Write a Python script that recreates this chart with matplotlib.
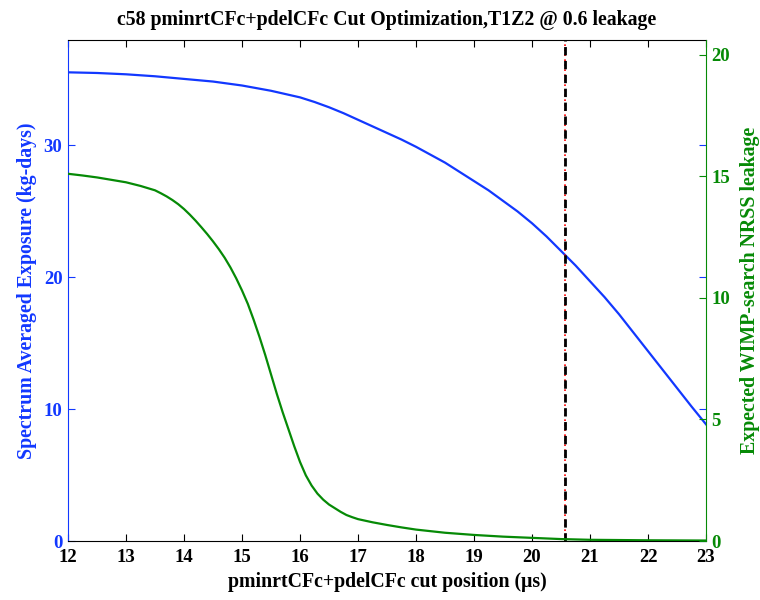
import matplotlib.pyplot as plt

plt.rcParams["font.family"] = ["Liberation Serif", "DejaVu Serif"]
plt.rcParams["font.weight"] = "bold"

BLUE = "#1238ff"
GREEN = "#068a06"

# exposure curve (left axis)
exp_x = [12.0, 12.5, 13.0, 13.5, 14.0, 14.5, 15.0, 15.5, 16.0, 16.25, 16.5, 16.75,
         17.0, 17.25, 17.5, 17.75, 18.0, 18.25, 18.5, 18.75, 19.0, 19.25, 19.5,
         19.75, 20.0, 20.25, 20.5, 20.75, 21.0, 21.25, 21.5, 21.75, 22.0, 22.25,
         22.5, 22.75, 23.0]
exposure = [35.55, 35.5, 35.4, 35.25, 35.05, 34.85, 34.55, 34.15, 33.65, 33.3, 32.9,
            32.45, 31.95, 31.45, 30.95, 30.45, 29.9, 29.3, 28.7, 28.0, 27.3, 26.6,
            25.8, 25.0, 24.1, 23.1, 22.0, 20.9, 19.7, 18.5, 17.2, 15.8, 14.4, 13.0,
            11.6, 10.2, 8.85]

# leakage curve (right axis)
leak_x = [12.0, 12.25, 12.5, 12.75, 13.0, 13.25, 13.5, 13.6, 13.7, 13.8, 13.9,
          14.0, 14.1, 14.2, 14.3, 14.4, 14.5, 14.6, 14.7, 14.8, 14.9, 15.0,
          15.1, 15.2, 15.3, 15.4, 15.5, 15.6, 15.7, 15.8, 15.9, 16.0, 16.1,
          16.2, 16.3, 16.4, 16.5, 16.6, 16.7, 16.8, 16.9, 17.0, 17.25, 17.5,
          17.75, 18.0, 18.5, 19.0, 19.5, 20.0, 20.5, 21.0, 22.0, 23.0]
leakage = [15.1, 15.03, 14.95, 14.85, 14.75, 14.6, 14.42, 14.3, 14.17, 14.02, 13.85,
           13.65, 13.42, 13.17, 12.9, 12.62, 12.32, 12.0, 11.65, 11.25, 10.8, 10.3,
           9.75, 9.1, 8.4, 7.65, 6.85, 6.05, 5.3, 4.6, 3.9, 3.25, 2.7,
           2.28, 1.95, 1.7, 1.5, 1.35, 1.2, 1.07, 0.98, 0.9, 0.77, 0.66,
           0.56, 0.47, 0.34, 0.25, 0.18, 0.13, 0.08, 0.05, 0.03, 0.02]

cut_pos = 20.56

fig = plt.figure(figsize=(7.6, 6.0), dpi=100)
ax = fig.add_axes([0.0895, 0.0983, 0.8395, 0.835])
ax2 = ax.twinx()

ax.plot(exp_x, exposure, color=BLUE, lw=1.6)
ax2.plot(leak_x, leakage, color=GREEN, lw=1.6)
ax.axvline(cut_pos, color="red", lw=1.2, ls=(0, (1, 2)))
ax.axvline(cut_pos, color="black", lw=2.0, ls=(0, (3, 2)))

ax.set_xlim(12, 23)
ax.set_ylim(0, 38)
ax2.set_ylim(0, 20.6)
ax.set_xticks(range(12, 24))
ax.set_yticks([0, 10, 20, 30])
ax2.set_yticks([0, 5, 10, 15, 20])

ax.tick_params(axis="x", direction="in", top=True, length=5, labelsize=13.5, pad=6)
ax.tick_params(axis="y", direction="in", right=True, length=5, colors=BLUE,
               labelsize=13.5, pad=4)
ax2.tick_params(axis="y", direction="in", length=5, colors=GREEN, labelsize=13.5, pad=4)
for lab in ax.get_xticklabels() + ax.get_yticklabels() + ax2.get_yticklabels():
    lab.set_fontweight("bold")

ax.spines["left"].set_color(BLUE)
ax.spines["right"].set_visible(False)
ax2.spines["right"].set_color(GREEN)
ax2.spines["left"].set_visible(False)
ax2.spines["top"].set_visible(False)
ax2.spines["bottom"].set_visible(False)

ax.set_title("c58 pminrtCFc+pdelCFc Cut Optimization,T1Z2 @ 0.6 leakage",
             fontsize=14.3, fontweight="bold", pad=11)
ax.set_xlabel("pminrtCFc+pdelCFc cut position (μs)", fontsize=14.3,
              fontweight="bold", labelpad=4)
ax.set_ylabel("Spectrum Averaged Exposure (kg-days)", fontsize=14.3,
              fontweight="bold", color=BLUE, labelpad=5)
ax2.set_ylabel("Expected WIMP-search NRSS leakage", fontsize=14.3,
               fontweight="bold", color=GREEN, labelpad=7)

fig.savefig("out.png", dpi=100)
